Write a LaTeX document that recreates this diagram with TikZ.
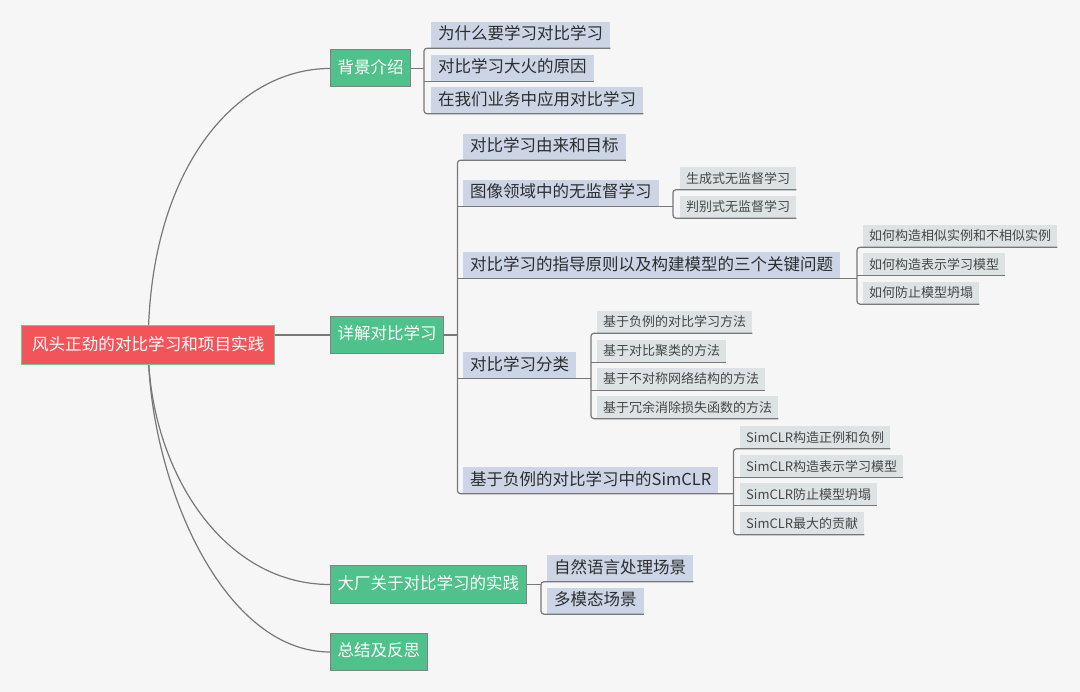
\documentclass[tikz,border=0pt]{standalone}
\usepackage{fontspec}
\setmainfont{Noto Sans CJK SC}
\usetikzlibrary{backgrounds}
\definecolor{bgc}{RGB}{246,246,246}
\definecolor{rootred}{RGB}{242,84,90}
\definecolor{rootbd}{RGB}{112,200,152}
\definecolor{branchg}{RGB}{78,194,138}
\definecolor{branchbd}{RGB}{130,130,130}
\definecolor{subc}{RGB}{204,213,230}
\definecolor{leafc}{RGB}{221,227,228}
\definecolor{linec}{RGB}{120,120,120}
\definecolor{subtext}{RGB}{45,45,45}
\definecolor{leaftext}{RGB}{70,70,70}
\begin{document}
\begin{tikzpicture}[x=1pt,y=-1pt,
  conn/.style={draw=linec,line width=1.2pt},
  box/.style={anchor=west,inner ysep=0pt,text height=0.98em,text depth=0.02em},
  rootbox/.style={box,fill=rootred,draw=rootbd,line width=1pt,text=white,font=\fontsize{16.6}{16.6}\selectfont,inner xsep=10.5pt,minimum height=39pt},
  branch/.style={box,fill=branchg,draw=branchbd,line width=1pt,text=white,font=\fontsize{16.5}{16.5}\selectfont,inner xsep=7pt,minimum height=37pt},
  subbox/.style={box,fill=subc,text=subtext,font=\fontsize{16.5}{16.5}\selectfont,inner xsep=7pt,minimum height=26pt},
  leaf/.style={box,fill=leafc,text=leaftext,font=\fontsize{13}{13}\selectfont,inner xsep=6pt,minimum height=22pt}]
\useasboundingbox (0,0) rectangle (1080,692);

% root and branches
\node[rootbox] (root) at (21,345.5) {风头正劲的对比学习和项目实践};
\node[branch] (bg) at (330,68.5) {背景介绍};
\node[branch] (det) at (330,335) {详解对比学习};
\node[branch] (dc) at (330,584.5) {大厂关于对比学习的实践};
\node[branch] (zj) at (330,652) {总结及反思};

% level 2
\node[subbox] (bg1) at (431,35) {为什么要学习对比学习};
\node[subbox] (bg2) at (431,68) {对比学习大火的原因};
\node[subbox] (bg3) at (431,100.5) {在我们业务中应用对比学习};

\node[subbox] (d1) at (463,147) {对比学习由来和目标};
\node[subbox] (d2) at (463,193) {图像领域中的无监督学习};
\node[subbox] (d3) at (463,265.5) {对比学习的指导原则以及构建模型的三个关键问题};
\node[subbox] (d4) at (463,365.5) {对比学习分类};
\node[subbox] (d5) at (463,480.5) {基于负例的对比学习中的SimCLR};

\node[subbox] (dc1) at (547,568.5) {自然语言处理场景};
\node[subbox] (dc2) at (547,601) {多模态场景};

% level 3
\node[leaf] (l21) at (680,178.5) {生成式无监督学习};
\node[leaf] (l22) at (680,207) {判别式无监督学习};

\node[leaf] (l31) at (863,236) {如何构造相似实例和不相似实例};
\node[leaf] (l32) at (863,264.5) {如何构造表示学习模型};
\node[leaf] (l33) at (863,293) {如何防止模型坍塌};

\node[leaf] (l41) at (597,322) {基于负例的对比学习方法};
\node[leaf] (l42) at (597,351) {基于对比聚类的方法};
\node[leaf] (l43) at (597,379) {基于不对称网络结构的方法};
\node[leaf] (l44) at (597,407.5) {基于冗余消除损失函数的方法};

\node[leaf] (l51) at (740,437.5) {SimCLR构造正例和负例};
\node[leaf] (l52) at (740,466.5) {SimCLR构造表示学习模型};
\node[leaf] (l53) at (740,494.5) {SimCLR防止模型坍塌};
\node[leaf] (l54) at (740,523.5) {SimCLR最大的贡献};

% bracket x positions
\coordinate (xbg) at (424,0);
\coordinate (xdet) at (457.5,0);
\coordinate (xdc) at (541,0);
\coordinate (xd2) at (673,0);
\coordinate (xd3) at (857,0);
\coordinate (xd4) at (591,0);
\coordinate (xd5) at (733.5,0);

% background intro
\draw[conn] (bg.east) -- (xbg |- bg.east);
\draw[conn,rounded corners=3pt] (bg1.south east) -- (xbg |- bg1.south) -- (xbg |- bg3.south) -- (bg3.south east);
\draw[conn] (xbg |- bg2.south) -- (bg2.south east);

% detail
\draw[conn] (root.east |- det.west) -- (det.west);
\draw[conn] (det.east) -- (xdet |- det.east);
\draw[conn,rounded corners=3pt] (d1.south east) -- (xdet |- d1.south) -- (xdet |- d5.south) -- (xd5 |- d5.south);
\draw[conn] (xdet |- d2.south) -- (xd2 |- d2.south);
\draw[conn] (xdet |- d3.south) -- (xd3 |- d3.south);
\draw[conn] (xdet |- d4.south) -- (xd4 |- d4.south);

\draw[conn,rounded corners=3pt] (l21.south east) -- (xd2 |- l21.south) -- (xd2 |- l22.south) -- (l22.south east);

\draw[conn,rounded corners=3pt] (l31.south east) -- (xd3 |- l31.south) -- (xd3 |- l33.south) -- (l33.south east);
\draw[conn] (xd3 |- l32.south) -- (l32.south east);

\draw[conn,rounded corners=3pt] (l41.south east) -- (xd4 |- l41.south) -- (xd4 |- l44.south) -- (l44.south east);
\draw[conn] (xd4 |- l42.south) -- (l42.south east);
\draw[conn] (xd4 |- l43.south) -- (l43.south east);

\draw[conn,rounded corners=3pt] (l51.south east) -- (xd5 |- l51.south) -- (xd5 |- l54.south) -- (l54.south east);
\draw[conn] (xd5 |- l52.south) -- (l52.south east);
\draw[conn] (xd5 |- l53.south) -- (l53.south east);

% practice
\draw[conn] (dc.east) -- (xdc |- dc.east);
\draw[conn,rounded corners=3pt] (dc1.south east) -- (xdc |- dc1.south) -- (xdc |- dc2.south) -- (dc2.south east);

\begin{pgfonlayer}{background}
\fill[bgc] (0,0) rectangle (1080,692);
\draw[conn] (root.center) .. controls +(0,-175) and +(-95,0) .. (bg.west);
\draw[conn] (root.center) .. controls +(0,120) and +(-110,0) .. (dc.west);
\draw[conn] (root.center) .. controls +(0,130) and +(-110,0) .. (zj.west);
\end{pgfonlayer}
\end{tikzpicture}
\end{document}
